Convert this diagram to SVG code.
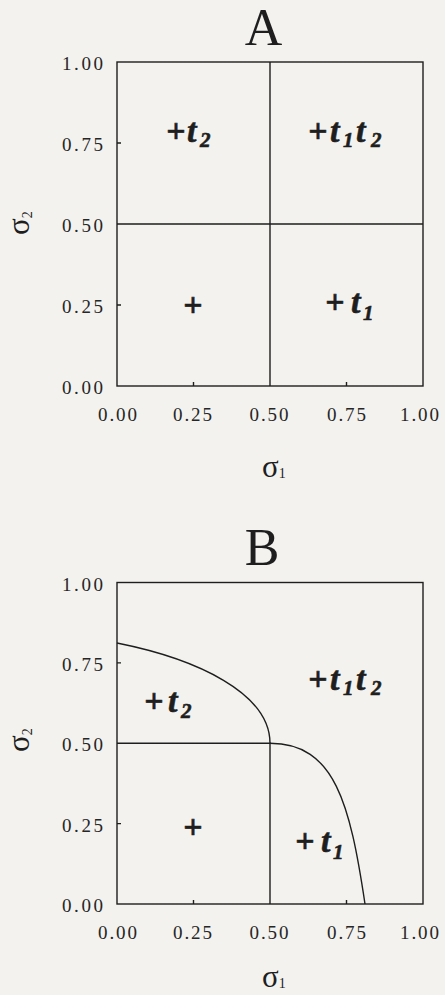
<svg xmlns="http://www.w3.org/2000/svg" width="445" height="995" viewBox="0 0 445 995">
<style>
.bg{fill:#f3f2ee}
.ax{fill:none;stroke:#1e1e1e;stroke-width:1.4}
.tk{font-family:"Liberation Serif",serif;font-size:19px;fill:#262626}
.tx{text-anchor:middle}
.ttl{font-family:"Liberation Serif",serif;font-size:52px;fill:#1e1e1e;text-anchor:middle}
.sg{font-family:"Liberation Serif",serif;font-size:31px;fill:#1e1e1e}
.sub{font-size:14px}
.rl{font-family:"Liberation Serif",serif;font-size:34px;font-weight:bold;font-style:italic;fill:#1e1e1e;stroke:#1e1e1e;stroke-width:0.6}
.rs{font-size:21px}
</style>
<rect class="bg" width="445" height="995"/>

<g id="panelA">
  <text class="ttl" x="263.5" y="45">A</text>
  <g id="axesA">
    <rect class="ax" x="117" y="62" width="306" height="324"/>
    <path class="ax" d="M117,143H121M117,305H121M193.5,386V382M346.5,386V382"/>
  </g>
  <g id="yticksA" class="tk">
    <text x="62" y="70" textLength="41">1.00</text>
    <text x="62" y="151" textLength="41">0.75</text>
    <text x="62" y="232" textLength="41">0.50</text>
    <text x="62" y="313" textLength="41">0.25</text>
    <text x="62" y="394" textLength="41">0.00</text>
  </g>
  <g id="xticksA" class="tk tx">
    <text x="117.5" y="421" textLength="39">0.00</text>
    <text x="192.5" y="421" textLength="39">0.25</text>
    <text x="269" y="421" textLength="39">0.50</text>
    <text x="346.5" y="421" textLength="39">0.75</text>
    <text x="419.5" y="421" textLength="39">1.00</text>
  </g>
  <text class="sg" transform="translate(29,235) rotate(-90)">σ<tspan class="sub" dy="3">2</tspan></text>
  <text class="sg" x="262" y="477">σ<tspan class="sub" dy="1">1</tspan></text>
  <g id="boundariesA">
    <path class="ax" d="M270,62V386M117,224H423"/>
  </g>
  <g id="regionA_none" class="rl"><text x="183" y="316">+</text></g>
  <g id="regionA_t1" class="rl"><text y="313"><tspan x="325">+</tspan><tspan x="351">t</tspan><tspan class="rs" x="363" dy="7">1</tspan></text></g>
  <g id="regionA_t2" class="rl"><text y="142"><tspan x="166">+</tspan><tspan x="187">t</tspan><tspan class="rs" x="200" dy="5">2</tspan></text></g>
  <g id="regionA_t1t2" class="rl"><text y="142"><tspan x="308">+</tspan><tspan x="330">t</tspan><tspan class="rs" x="343" dy="5">1</tspan><tspan x="356" dy="-5">t</tspan><tspan class="rs" x="371" dy="5">2</tspan></text></g>
</g>

<g id="panelB">
  <text class="ttl" x="262" y="565">B</text>
  <g id="axesB">
    <rect class="ax" x="117" y="582.5" width="306" height="321.5"/>
    <path class="ax" d="M117,662.9H121M117,823.6H121M193.5,904V900M346.5,904V900"/>
  </g>
  <g id="yticksB" class="tk">
    <text x="62" y="590.5" textLength="41">1.00</text>
    <text x="62" y="671" textLength="41">0.75</text>
    <text x="62" y="751" textLength="41">0.50</text>
    <text x="62" y="831.5" textLength="41">0.25</text>
    <text x="62" y="912" textLength="41">0.00</text>
  </g>
  <g id="xticksB" class="tk tx">
    <text x="117.5" y="939" textLength="39">0.00</text>
    <text x="192.5" y="939" textLength="39">0.25</text>
    <text x="269" y="939" textLength="39">0.50</text>
    <text x="346.5" y="939" textLength="39">0.75</text>
    <text x="419.5" y="939" textLength="39">1.00</text>
  </g>
  <text class="sg" transform="translate(29,752) rotate(-90)">σ<tspan class="sub" dy="3">2</tspan></text>
  <text class="sg" x="262" y="987">σ<tspan class="sub" dy="1">1</tspan></text>
  <g id="boundariesB">
    <path class="ax" d="M117,743.25H270V904"/>
    <path class="ax" d="M117,643C197,659 270,693 270,743.25"/>
    <path class="ax" d="M270,743.25C335,743.25 350,804 365,904"/>
  </g>
  <g id="regionB_none" class="rl"><text x="183" y="838">+</text></g>
  <g id="regionB_t1" class="rl"><text y="852"><tspan x="295">+</tspan><tspan x="321">t</tspan><tspan class="rs" x="333" dy="7">1</tspan></text></g>
  <g id="regionB_t2" class="rl"><text y="712"><tspan x="144">+</tspan><tspan x="168">t</tspan><tspan class="rs" x="181" dy="6">2</tspan></text></g>
  <g id="regionB_t1t2" class="rl"><text y="690"><tspan x="308">+</tspan><tspan x="330">t</tspan><tspan class="rs" x="343" dy="5">1</tspan><tspan x="356" dy="-5">t</tspan><tspan class="rs" x="371" dy="5">2</tspan></text></g>
</g>
</svg>
